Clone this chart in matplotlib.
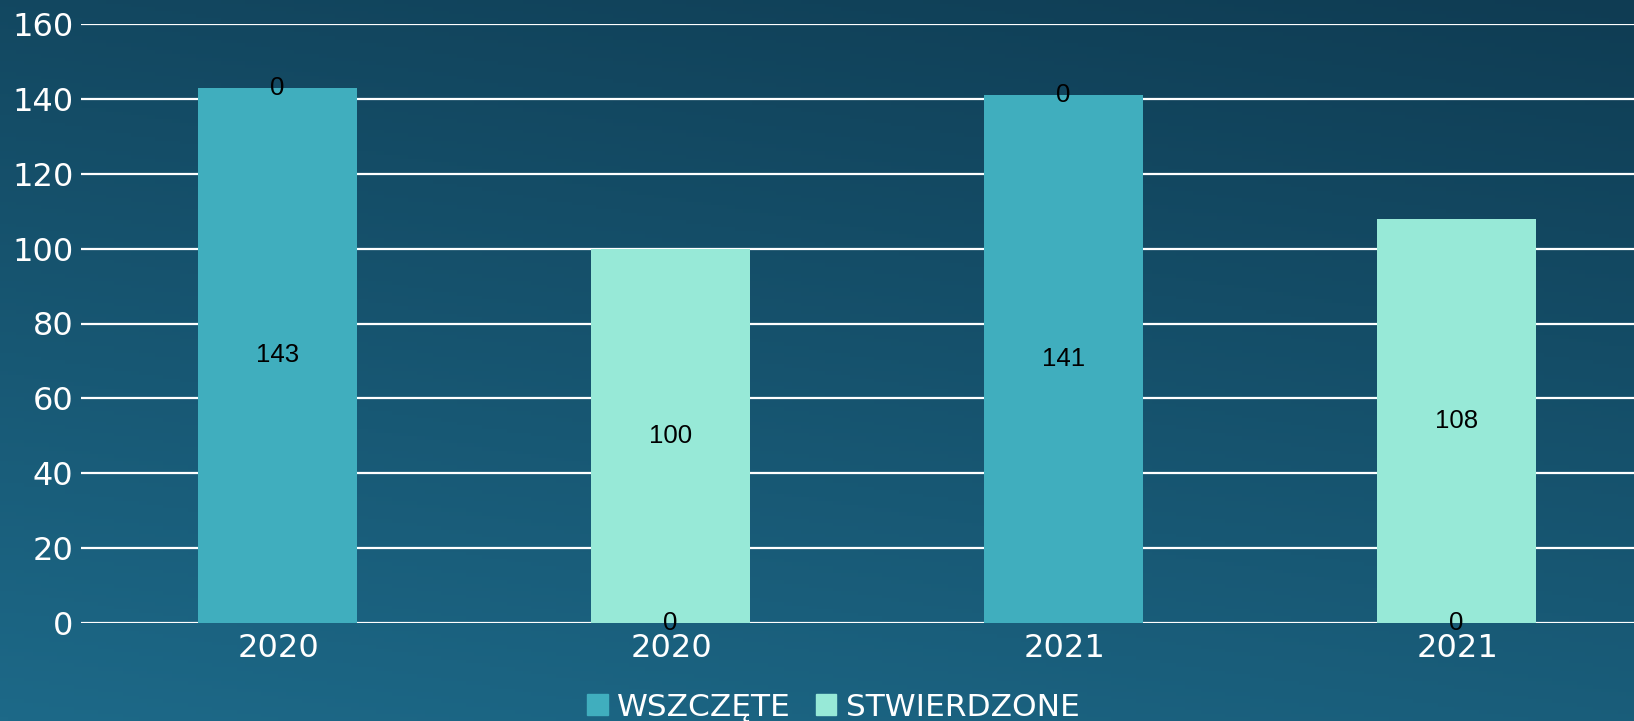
import matplotlib
matplotlib.use("Agg")
import matplotlib.pyplot as plt
import numpy as np
from matplotlib.patches import Patch

# Data
categories = ["2020", "2020", "2021", "2021"]
wszczete = [143, 0, 141, 0]
stwierdzone = [0, 100, 0, 108]
series_names = ["WSZCZĘTE", "STWIERDZONE"]
y_ticks = [0, 20, 40, 60, 80, 100, 120, 140, 160]

# Colors
col_wsz = "#40aebe"
col_stw = "#97e9d7"

fig = plt.figure(figsize=(16.34, 7.21), dpi=100)

# Gradient background (dark top-right, lighter bottom-left)
bg = fig.add_axes([0, 0, 1, 1], zorder=-10)
gx, gy = np.meshgrid(np.linspace(0, 1, 200), np.linspace(0, 1, 200))
t = np.clip((gy * 0.85 + (1 - gx) * 0.3) / 1.15, 0, 1)
top = np.array([0x0f, 0x3c, 0x53]) / 255
bot = np.array([0x1d, 0x69, 0x88]) / 255
img = top[None, None, :] * (1 - t[..., None]) + bot[None, None, :] * t[..., None]
bg.imshow(img, aspect="auto", extent=[0, 1, 0, 1], origin="upper")
bg.axis("off")

ax = fig.add_axes([81 / 1634, 1 - 623 / 721, 1 - 81 / 1634, (623 - 24) / 721])
ax.patch.set_alpha(0)

x = np.arange(len(categories))
w = 0.405
ax.bar(x, wszczete, w, color=col_wsz, zorder=3)
ax.bar(x, stwierdzone, w, bottom=wszczete, color=col_stw, zorder=3)

lab_font = dict(family="Liberation Sans", fontsize=18.5, color="black", zorder=5)
for i in range(len(categories)):
    ax.text(x[i], wszczete[i] / 2, str(wszczete[i]), ha="center", va="center", **lab_font)
    ax.text(x[i], wszczete[i] + stwierdzone[i] / 2, str(stwierdzone[i]),
            ha="center", va="center", **lab_font)

ax.set_xlim(-0.5, -0.5 + 1553 / 393)
ax.set_ylim(0, 160)
ax.set_yticks(y_ticks)
ax.set_xticks(x + 0.003)
ax.set_xticklabels(categories)
ax.tick_params(axis="both", length=0, labelsize=23, labelcolor="white")
ax.tick_params(axis="y", pad=5.5)
ax.tick_params(axis="x", pad=7)
ax.grid(axis="y", color="white", linewidth=1.6, zorder=1)
for s in ax.spines.values():
    s.set_visible(False)

handles = [Patch(color=col_wsz), Patch(color=col_stw)]
fig.legend(handles, series_names, loc="lower center", bbox_to_anchor=(0.51, -0.04),
           ncol=2, frameon=False, fontsize=22.5, labelcolor="white",
           handlelength=0.65, handleheight=0.65, handletextpad=0.3, columnspacing=0.8)

fig.savefig("out.png", dpi=100)
